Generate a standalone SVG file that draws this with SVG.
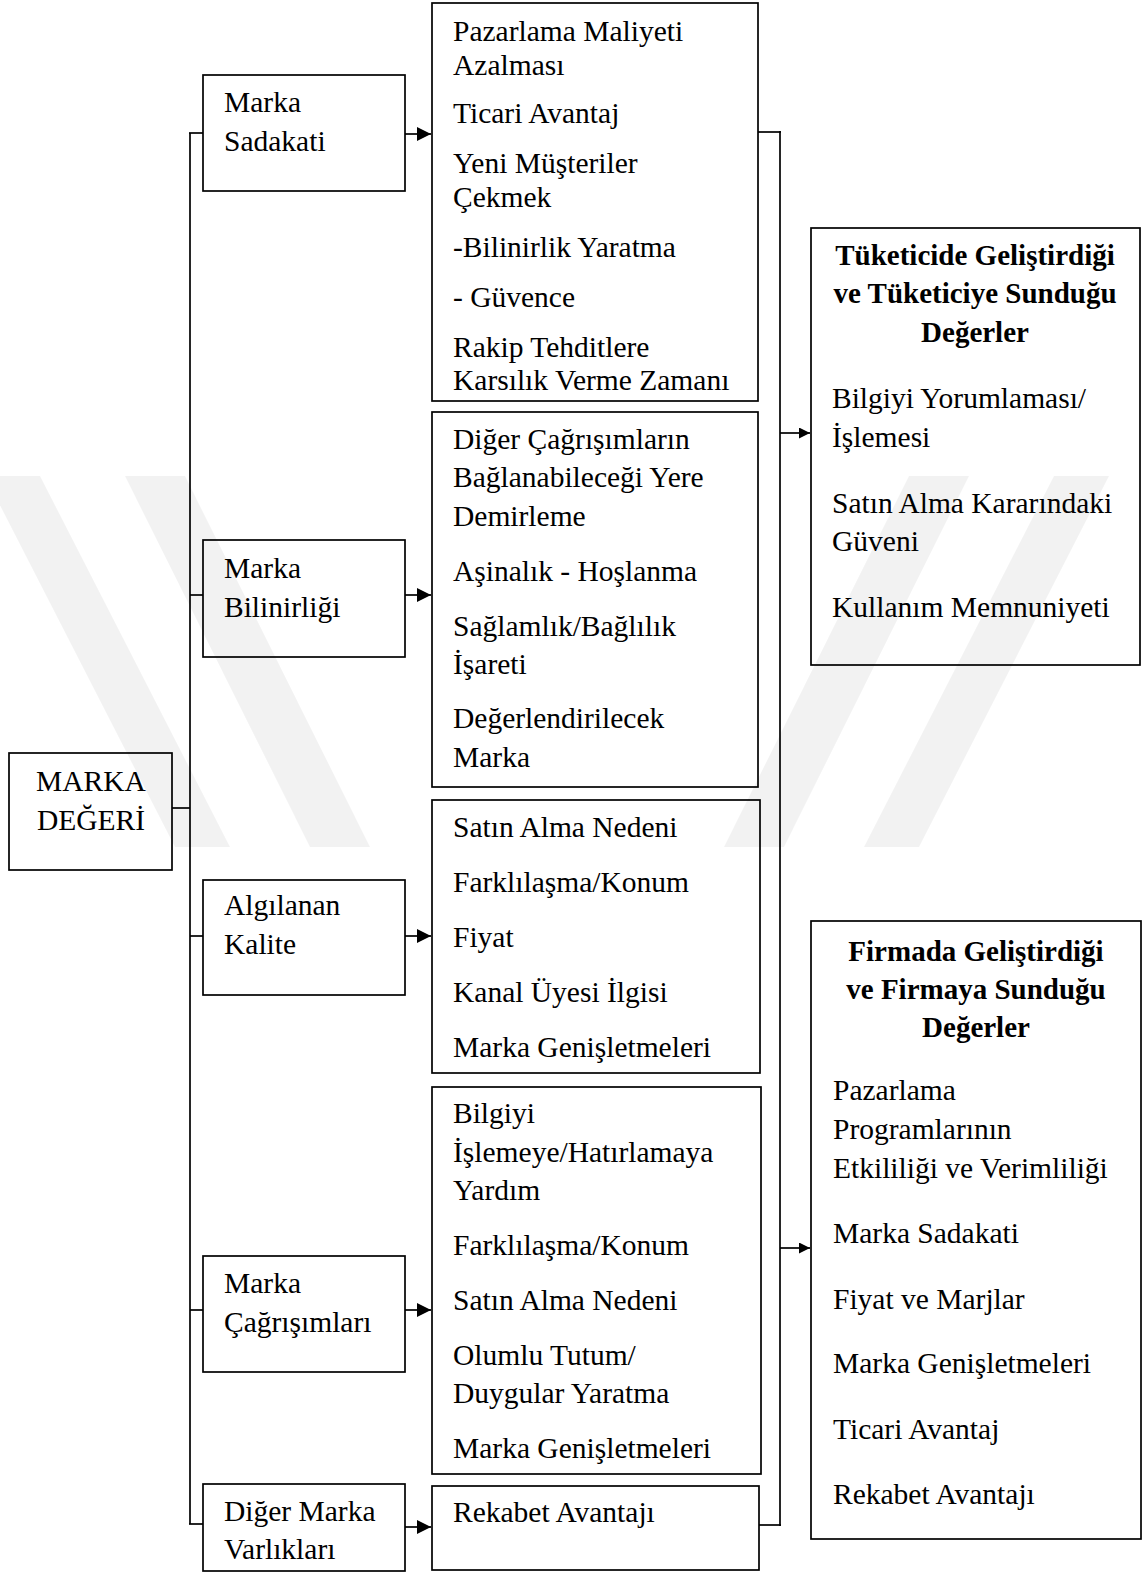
<svg xmlns="http://www.w3.org/2000/svg" width="1143" height="1572" viewBox="0 0 1143 1572">
  <defs>
    <marker id="arrow" viewBox="0 0 10 10" refX="10" refY="5" markerWidth="16" markerHeight="14" markerUnits="userSpaceOnUse" orient="auto">
      <path d="M0,0 L10,5 L0,10 z" fill="#000"/>
    </marker>
    <marker id="arrow-sm" viewBox="0 0 10 10" refX="10" refY="5" markerWidth="12" markerHeight="11" markerUnits="userSpaceOnUse" orient="auto">
      <path d="M0,0 L10,5 L0,10 z" fill="#000"/>
    </marker>
    <style>
      .box { fill: none; stroke: #000; stroke-width: 1.7; }
      .line { fill: none; stroke: #000; stroke-width: 1.7; }
      .t { font-family: "Liberation Serif", "Times New Roman", serif; font-size: 29.5px; fill: #000; }
      .b { font-weight: bold; font-size: 29px; }
      .c { text-anchor: middle; }
      .wm { fill: #000; fill-opacity: 0.05; }
    </style>
  </defs>

  <rect width="1143" height="1572" fill="#fff"/>

  <!-- faint background emblem: diagonal stripes -->
  <g id="emblem">
    <polygon class="wm" points="-15,476 40,476 230,847 175,847"/>
    <polygon class="wm" points="125,476 185,476 370,847 310,847"/>
    <polygon class="wm" points="909,476 969,476 784,847 724,847"/>
    <polygon class="wm" points="1054,476 1109,476 919,847 864,847"/>
  </g>

  <!-- connectors -->
  <g id="connectors">
    <!-- trunk from MARKA DEĞERİ -->
    <line class="line" x1="172" y1="808" x2="190" y2="808"/>
    <line class="line" x1="190" y1="133" x2="190" y2="1524"/>
    <line class="line" x1="189" y1="133" x2="203" y2="133"/>
    <line class="line" x1="190" y1="595" x2="203" y2="595"/>
    <line class="line" x1="190" y1="936" x2="203" y2="936"/>
    <line class="line" x1="190" y1="1310" x2="203" y2="1310"/>
    <line class="line" x1="189" y1="1524" x2="203" y2="1524"/>
    <!-- dimension to benefit lists -->
    <line class="line" x1="405" y1="134" x2="431" y2="134" marker-end="url(#arrow)"/>
    <line class="line" x1="405" y1="595" x2="431" y2="595" marker-end="url(#arrow)"/>
    <line class="line" x1="405" y1="936" x2="431" y2="936" marker-end="url(#arrow)"/>
    <line class="line" x1="405" y1="1310" x2="431" y2="1310" marker-end="url(#arrow)"/>
    <line class="line" x1="405" y1="1527" x2="431" y2="1527" marker-end="url(#arrow)"/>
    <!-- collector on the right -->
    <line class="line" x1="758" y1="132" x2="781" y2="132"/>
    <line class="line" x1="780" y1="131" x2="780" y2="1526"/>
    <line class="line" x1="759" y1="1525" x2="781" y2="1525"/>
    <line class="line" x1="780" y1="433" x2="810" y2="433" marker-end="url(#arrow-sm)"/>
    <line class="line" x1="780" y1="1248" x2="810" y2="1248" marker-end="url(#arrow-sm)"/>
  </g>

  <!-- root -->
  <g id="marka-degeri">
    <rect class="box" x="9" y="753" width="163" height="117"/>
    <text class="t c" x="91" y="791">MARKA</text>
    <text class="t c" x="91" y="830">DEĞERİ</text>
  </g>

  <!-- dimensions -->
  <g id="marka-sadakati">
    <rect class="box" x="203" y="75" width="202" height="116"/>
    <text class="t" x="224" y="112">Marka</text>
    <text class="t" x="224" y="151">Sadakati</text>
  </g>
  <g id="marka-bilinirligi">
    <rect class="box" x="203" y="540" width="202" height="117"/>
    <text class="t" x="224" y="578">Marka</text>
    <text class="t" x="224" y="617">Bilinirliği</text>
  </g>
  <g id="algilanan-kalite">
    <rect class="box" x="203" y="880" width="202" height="115"/>
    <text class="t" x="224" y="915">Algılanan</text>
    <text class="t" x="224" y="954">Kalite</text>
  </g>
  <g id="marka-cagrisimlari">
    <rect class="box" x="203" y="1256" width="202" height="116"/>
    <text class="t" x="224" y="1293">Marka</text>
    <text class="t" x="224" y="1332">Çağrışımları</text>
  </g>
  <g id="diger-marka-varliklari">
    <rect class="box" x="203" y="1484" width="202" height="87"/>
    <text class="t" x="224" y="1521">Diğer Marka</text>
    <text class="t" x="224" y="1559">Varlıkları</text>
  </g>

  <!-- benefit lists -->
  <g id="sadakat-faydalari">
    <rect class="box" x="432" y="3" width="326" height="398"/>
    <text class="t" x="453" y="41">Pazarlama Maliyeti</text>
    <text class="t" x="453" y="75">Azalması</text>
    <text class="t" x="453" y="123">Ticari Avantaj</text>
    <text class="t" x="453" y="173">Yeni Müşteriler</text>
    <text class="t" x="453" y="207">Çekmek</text>
    <text class="t" x="453" y="257">-Bilinirlik Yaratma</text>
    <text class="t" x="453" y="307">- Güvence</text>
    <text class="t" x="453" y="357">Rakip Tehditlere</text>
    <text class="t" x="453" y="390">Karsılık Verme Zamanı</text>
  </g>
  <g id="bilinirlik-faydalari">
    <rect class="box" x="432" y="412" width="326" height="375"/>
    <text class="t" x="453" y="449">Diğer Çağrışımların</text>
    <text class="t" x="453" y="487">Bağlanabileceği Yere</text>
    <text class="t" x="453" y="526">Demirleme</text>
    <text class="t" x="453" y="581">Aşinalık - Hoşlanma</text>
    <text class="t" x="453" y="636">Sağlamlık/Bağlılık</text>
    <text class="t" x="453" y="674">İşareti</text>
    <text class="t" x="453" y="728">Değerlendirilecek</text>
    <text class="t" x="453" y="767">Marka</text>
  </g>
  <g id="kalite-faydalari">
    <rect class="box" x="432" y="800" width="328" height="273"/>
    <text class="t" x="453" y="837">Satın Alma Nedeni</text>
    <text class="t" x="453" y="892">Farklılaşma/Konum</text>
    <text class="t" x="453" y="947">Fiyat</text>
    <text class="t" x="453" y="1002">Kanal Üyesi İlgisi</text>
    <text class="t" x="453" y="1057">Marka Genişletmeleri</text>
  </g>
  <g id="cagrisim-faydalari">
    <rect class="box" x="432" y="1087" width="329" height="387"/>
    <text class="t" x="453" y="1123">Bilgiyi</text>
    <text class="t" x="453" y="1162">İşlemeye/Hatırlamaya</text>
    <text class="t" x="453" y="1200">Yardım</text>
    <text class="t" x="453" y="1255">Farklılaşma/Konum</text>
    <text class="t" x="453" y="1310">Satın Alma Nedeni</text>
    <text class="t" x="453" y="1365">Olumlu Tutum/</text>
    <text class="t" x="453" y="1403">Duygular Yaratma</text>
    <text class="t" x="453" y="1458">Marka Genişletmeleri</text>
  </g>
  <g id="diger-varlik-faydalari">
    <rect class="box" x="432" y="1486" width="327" height="84"/>
    <text class="t" x="453" y="1522">Rekabet Avantajı</text>
  </g>

  <!-- value outcomes -->
  <g id="tuketici-degerleri">
    <rect class="box" x="811" y="228" width="329" height="437"/>
    <text class="t b c" x="975" y="265">Tüketicide Geliştirdiği</text>
    <text class="t b c" x="975" y="303">ve Tüketiciye Sunduğu</text>
    <text class="t b c" x="975" y="342">Değerler</text>
    <text class="t" x="832" y="408">Bilgiyi Yorumlaması/</text>
    <text class="t" x="832" y="447">İşlemesi</text>
    <text class="t" x="832" y="513">Satın Alma Kararındaki</text>
    <text class="t" x="832" y="551">Güveni</text>
    <text class="t" x="832" y="617">Kullanım Memnuniyeti</text>
  </g>
  <g id="firma-degerleri">
    <rect class="box" x="811" y="921" width="330" height="618"/>
    <text class="t b c" x="976" y="961">Firmada Geliştirdiği</text>
    <text class="t b c" x="976" y="999">ve Firmaya Sunduğu</text>
    <text class="t b c" x="976" y="1037">Değerler</text>
    <text class="t" x="833" y="1100">Pazarlama</text>
    <text class="t" x="833" y="1139">Programlarının</text>
    <text class="t" x="833" y="1178">Etkililiği ve Verimliliği</text>
    <text class="t" x="833" y="1243">Marka Sadakati</text>
    <text class="t" x="833" y="1309">Fiyat ve Marjlar</text>
    <text class="t" x="833" y="1373">Marka Genişletmeleri</text>
    <text class="t" x="833" y="1439">Ticari Avantaj</text>
    <text class="t" x="833" y="1504">Rekabet Avantajı</text>
  </g>
</svg>
